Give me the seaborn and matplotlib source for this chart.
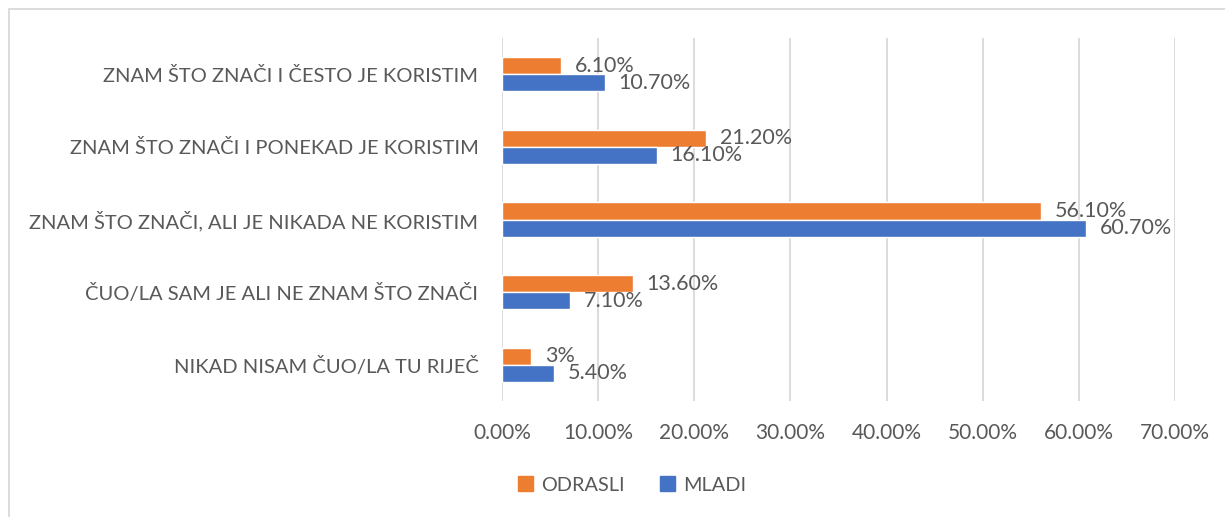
import matplotlib.pyplot as plt
import matplotlib.patches as mpatches
import pandas as pd
import seaborn as sns

# podaci iz grafikona
kategorije = [
    'ZNAM ŠTO ZNAČI I ČESTO JE KORISTIM',
    'ZNAM ŠTO ZNAČI I PONEKAD JE KORISTIM',
    'ZNAM ŠTO ZNAČI, ALI JE NIKADA NE KORISTIM',
    'ČUO/LA SAM JE ALI NE ZNAM ŠTO ZNAČI',
    'NIKAD NISAM ČUO/LA TU RIJEČ',
]
odrasli = [6.1, 21.2, 56.1, 13.6, 3.0]
mladi = [10.7, 16.1, 60.7, 7.1, 5.4]
odrasli_oznake = ['6.10%', '21.20%', '56.10%', '13.60%', '3%']
mladi_oznake = ['10.70%', '16.10%', '60.70%', '7.10%', '5.40%']
x_ticks = [0, 10, 20, 30, 40, 50, 60, 70]

NARANCASTA = '#ED7D31'
PLAVA = '#4472C4'
SIVA_TEKST = '#595959'
SIVA_MREZA = '#D9D9D9'

sns.set_style('white')
plt.rcParams['font.family'] = ['Lato', 'DejaVu Sans']

df = pd.DataFrame({
    'kategorija': kategorije * 2,
    'vrijednost': odrasli + mladi,
    'grupa': ['ODRASLI'] * len(kategorije) + ['MLADI'] * len(kategorije),
})

fig = plt.figure(figsize=(12.25, 5.17), dpi=100)
ax = fig.add_axes([502 / 1225, 1 - 401 / 517, 673 / 1225, 363 / 517])

sns.barplot(data=df, y='kategorija', x='vrijednost', hue='grupa',
            order=kategorije, hue_order=['ODRASLI', 'MLADI'],
            palette=[NARANCASTA, PLAVA], width=0.47, orient='h',
            saturation=1, legend=False, ax=ax)

for cont, oznake in zip(ax.containers, [odrasli_oznake, mladi_oznake]):
    ax.bar_label(cont, labels=oznake, padding=10, fontsize=15.5,
                 color=SIVA_TEKST)

ax.set_xlim(0, 70)
ax.set_xticks(x_ticks)
ax.set_xticklabels(['{:.2f}%'.format(v) for v in x_ticks])
ax.xaxis.grid(True, color=SIVA_MREZA, linewidth=1.3)
ax.set_axisbelow(True)
for s in ax.spines.values():
    s.set_visible(False)
ax.set_xlabel('')
ax.set_ylabel('')
ax.tick_params(axis='both', length=0, colors=SIVA_TEKST)
ax.tick_params(axis='x', pad=16, labelsize=15)
ax.tick_params(axis='y', pad=17, labelsize=14.5)

# legenda ispod grafikona
ruke = [mpatches.Patch(color=NARANCASTA, label='ODRASLI'),
        mpatches.Patch(color=PLAVA, label='MLADI')]
fig.legend(handles=ruke, loc='center', bbox_to_anchor=(632 / 1225, 1 - 485 / 517),
           ncol=2, frameon=False, fontsize=14.3, labelcolor=SIVA_TEKST,
           handlelength=0.75, handleheight=0.75, handletextpad=0.4,
           columnspacing=1.8)

# okvir grafikona
fig.patches.append(mpatches.Rectangle((8.5 / 1225, -0.1), 1.2, 1 - 8.5 / 517 + 0.1,
                                      transform=fig.transFigure, fill=False,
                                      edgecolor=SIVA_MREZA, linewidth=1.3))

fig.savefig('out.png', dpi=100)
